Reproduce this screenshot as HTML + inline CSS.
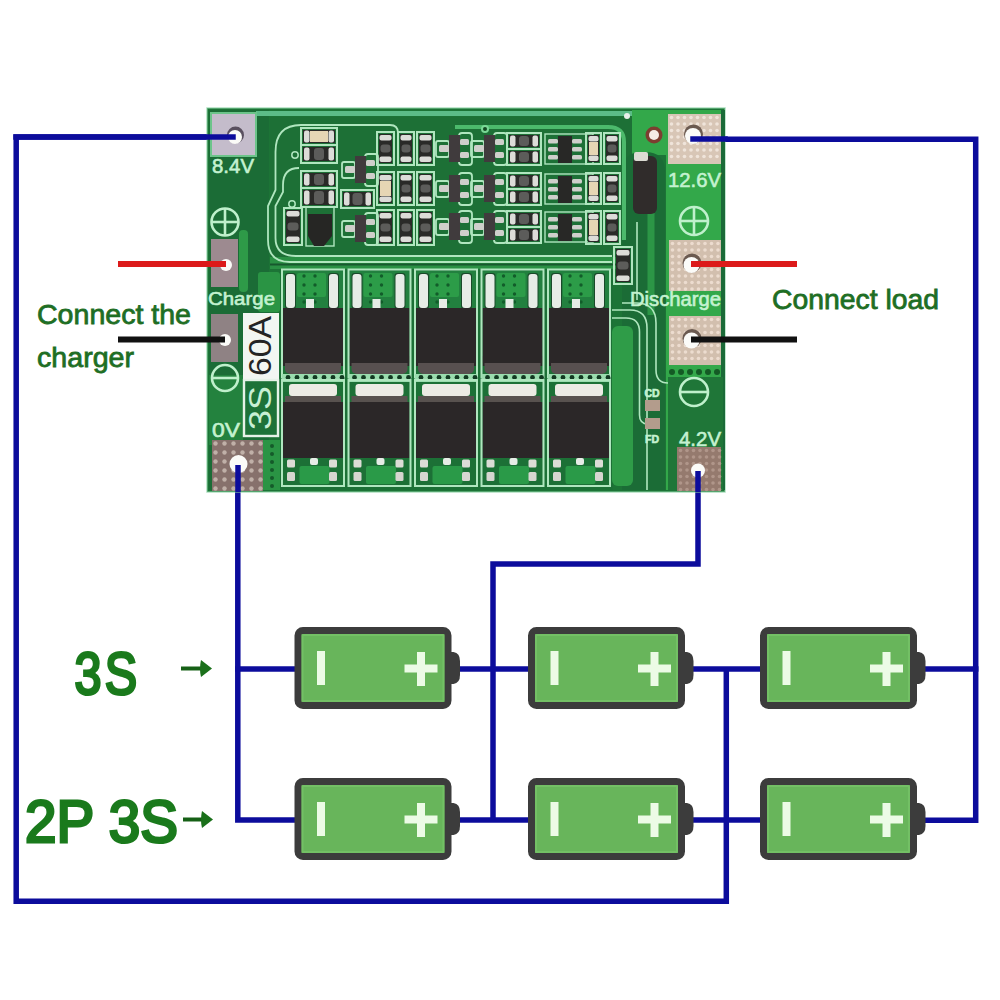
<!DOCTYPE html>
<html><head><meta charset="utf-8"><style>
html,body{margin:0;padding:0;background:#fff;width:1000px;height:1000px;overflow:hidden;}
svg{display:block;}
</style></head><body>
<svg width="1000" height="1000" viewBox="0 0 1000 1000">
<rect width="1000" height="1000" fill="#ffffff"/>
<polyline points="235,137 16.2,137 16.2,901.3 726.3,901.3 726.3,669" fill="none" stroke="#0c0c9c" stroke-width="5.5" stroke-linejoin="miter" stroke-linecap="butt"/>
<polyline points="693,139.3 975.7,139.3 975.7,820.3 920,820.3" fill="none" stroke="#0c0c9c" stroke-width="5.5" stroke-linejoin="miter" stroke-linecap="butt"/>
<line x1="920" y1="669" x2="975.7" y2="669" stroke="#0c0c9c" stroke-width="5.5" stroke-linecap="square"/>
<polyline points="237.8,463 237.8,820 297,820" fill="none" stroke="#0c0c9c" stroke-width="5.5" stroke-linejoin="miter" stroke-linecap="butt"/>
<line x1="237.8" y1="669" x2="297" y2="669" stroke="#0c0c9c" stroke-width="5.5" stroke-linecap="square"/>
<polyline points="698,469 698,564 493,564 493,820" fill="none" stroke="#0c0c9c" stroke-width="5.5" stroke-linejoin="miter" stroke-linecap="butt"/>
<line x1="455" y1="669" x2="530" y2="669" stroke="#0c0c9c" stroke-width="5.5" stroke-linecap="square"/>
<line x1="455" y1="820" x2="530" y2="820" stroke="#0c0c9c" stroke-width="5.5" stroke-linecap="square"/>
<line x1="688" y1="669" x2="762" y2="669" stroke="#0c0c9c" stroke-width="5.5" stroke-linecap="square"/>
<line x1="688" y1="820" x2="762" y2="820" stroke="#0c0c9c" stroke-width="5.5" stroke-linecap="square"/>
<rect x="207" y="108" width="518" height="384" rx="0" fill="#1c7436" />
<rect x="209" y="110" width="60" height="380" rx="0" fill="#1b6c36" />
<rect x="209" y="375" width="34" height="70" rx="0" fill="#23823e" />
<rect x="270" y="117" width="362" height="150" rx="0" fill="#1d7036" />
<rect x="256" y="111" width="376" height="5" rx="0" fill="#5cbc88" />
<rect x="666" y="110" width="57" height="380" rx="0" fill="#33a84a" />
<rect x="632" y="110" width="36" height="45" rx="0" fill="#33a84a" />
<path d="M 622 490 L 622 172 Q 622 152 642 152 L 645 152 Q 665 152 665 172 L 665 490 Z" fill="#1b6c36"/>
<rect x="647.5" y="205" width="7" height="110" rx="0" fill="#2c9646" />
<path d="M 637 222 L 637 300" fill="none" stroke="#b0e6bf" stroke-width="1.6" />
<rect x="279" y="267" width="334" height="223" rx="0" fill="#1c7036" />
<rect x="270" y="257" width="350" height="12" rx="0" fill="#2a9044" />
<rect x="270" y="263.5" width="350" height="2" rx="0" fill="#17582e" />
<rect x="612" y="326" width="21" height="160" rx="6" fill="#2f9c48" />
<path d="M 612 310 L 630 310 Q 647 310 647 328 L 647 490" fill="none" stroke="#b0e6bf" stroke-width="1.6" />
<path d="M 612 318 L 626 318 Q 639.5 318 639.5 332 L 639.5 415 Q 639.5 424 648 424" fill="none" stroke="#b0e6bf" stroke-width="1.6" />
<path d="M 622 303 L 636 303 Q 656 303 656 323 L 656 370 Q 656 383 668 383 L 680 383" fill="none" stroke="#b0e6bf" stroke-width="1.6" />
<rect x="207" y="108" width="518" height="384" rx="0" fill="none" stroke="#8ad2a4" stroke-width="1.5" opacity="0.7"/>
<rect x="721" y="110" width="4" height="380" rx="0" fill="#1b6a38" />
<path d="M 612 262 L 290 262 Q 268 262 268 240 L 268 206 L 275.5 190 L 275.5 152 Q 275.5 125 301 125 L 390 125 Q 398 125 398 133" fill="none" stroke="#b0e6bf" stroke-width="1.8" />
<path d="M 612 256 L 296 256 Q 275.5 256 275.5 238 L 275.5 206 L 283 192 L 283 185 Q 283 168 299 168" fill="none" stroke="#b0e6bf" stroke-width="1.8" />
<circle cx="295" cy="155" r="3.2" fill="none" stroke="#b0e6bf" stroke-width="1.5"/>
<circle cx="292" cy="204" r="3.2" fill="none" stroke="#b0e6bf" stroke-width="1.5"/>
<rect x="283" y="271" width="60" height="38" rx="0" fill="#22803f" />
<rect x="297" y="273" width="29" height="24" rx="2" fill="#2c9c48" />
<circle cx="304" cy="276" r="1.7" fill="#125c2a"/>
<circle cx="315" cy="276" r="1.7" fill="#125c2a"/>
<circle cx="304" cy="285" r="1.7" fill="#125c2a"/>
<circle cx="315" cy="285" r="1.7" fill="#125c2a"/>
<circle cx="304" cy="294" r="1.7" fill="#125c2a"/>
<circle cx="315" cy="294" r="1.7" fill="#125c2a"/>
<circle cx="304" cy="302" r="1.7" fill="#125c2a"/>
<circle cx="315" cy="302" r="1.7" fill="#125c2a"/>
<rect x="285" y="273" width="11" height="36" rx="3" fill="#1a4a2a" />
<rect x="286" y="274" width="9" height="34" rx="3" fill="#e6ece6" />
<rect x="328" y="273" width="11" height="36" rx="3" fill="#1a4a2a" />
<rect x="329" y="274" width="9" height="34" rx="3" fill="#e6ece6" />
<rect x="306" y="299" width="8" height="9" rx="0" fill="#e6ece6" />
<rect x="283" y="308" width="60" height="58" rx="0" fill="#2b2728" />
<rect x="285" y="358" width="56" height="16" rx="5" fill="#585050" />
<rect x="283" y="356" width="60" height="7" rx="0" fill="#2b2728" />
<rect x="282" y="269.5" width="62" height="108" rx="0" fill="none" stroke="#b0e6bf" stroke-width="2"/>
<rect x="282" y="374" width="62" height="8" rx="0" fill="#9adcae" />
<circle cx="288" cy="377.5" r="2.4" fill="#123a22"/>
<circle cx="297" cy="377.5" r="2.4" fill="#123a22"/>
<circle cx="306" cy="377.5" r="2.4" fill="#123a22"/>
<circle cx="315" cy="377.5" r="2.4" fill="#123a22"/>
<circle cx="324" cy="377.5" r="2.4" fill="#123a22"/>
<circle cx="333" cy="377.5" r="2.4" fill="#123a22"/>
<circle cx="342" cy="377.5" r="2.4" fill="#123a22"/>
<rect x="289" y="384" width="48" height="12" rx="3" fill="#ecebe4" />
<rect x="285" y="396" width="56" height="6" rx="0" fill="#58524f" />
<rect x="283" y="402" width="60" height="56" rx="0" fill="#2b2728" />
<rect x="299.5" y="466" width="30" height="18" rx="2" fill="#2a9a48" />
<rect x="287" y="459.5" width="8" height="8" rx="1.5" fill="#dcdcd6" />
<rect x="287" y="472" width="8" height="9" rx="1.5" fill="#d6d6d0" />
<rect x="329" y="459.5" width="8" height="8" rx="1.5" fill="#dcdcd6" />
<rect x="329" y="472" width="8" height="9" rx="1.5" fill="#d6d6d0" />
<rect x="310" y="458" width="8" height="7" rx="2" fill="#e6ece6" />
<rect x="282" y="380" width="62" height="106" rx="0" fill="none" stroke="#b0e6bf" stroke-width="2"/>
<rect x="349.5" y="271" width="60" height="38" rx="0" fill="#22803f" />
<rect x="363.5" y="273" width="29" height="24" rx="2" fill="#2c9c48" />
<circle cx="370.5" cy="276" r="1.7" fill="#125c2a"/>
<circle cx="381.5" cy="276" r="1.7" fill="#125c2a"/>
<circle cx="370.5" cy="285" r="1.7" fill="#125c2a"/>
<circle cx="381.5" cy="285" r="1.7" fill="#125c2a"/>
<circle cx="370.5" cy="294" r="1.7" fill="#125c2a"/>
<circle cx="381.5" cy="294" r="1.7" fill="#125c2a"/>
<circle cx="370.5" cy="302" r="1.7" fill="#125c2a"/>
<circle cx="381.5" cy="302" r="1.7" fill="#125c2a"/>
<rect x="351.5" y="273" width="11" height="36" rx="3" fill="#1a4a2a" />
<rect x="352.5" y="274" width="9" height="34" rx="3" fill="#e6ece6" />
<rect x="394.5" y="273" width="11" height="36" rx="3" fill="#1a4a2a" />
<rect x="395.5" y="274" width="9" height="34" rx="3" fill="#e6ece6" />
<rect x="372.5" y="299" width="8" height="9" rx="0" fill="#e6ece6" />
<rect x="349.5" y="308" width="60" height="58" rx="0" fill="#2b2728" />
<rect x="351.5" y="358" width="56" height="16" rx="5" fill="#585050" />
<rect x="349.5" y="356" width="60" height="7" rx="0" fill="#2b2728" />
<rect x="348.5" y="269.5" width="62" height="108" rx="0" fill="none" stroke="#b0e6bf" stroke-width="2"/>
<rect x="348.5" y="374" width="62" height="8" rx="0" fill="#9adcae" />
<circle cx="354.5" cy="377.5" r="2.4" fill="#123a22"/>
<circle cx="363.5" cy="377.5" r="2.4" fill="#123a22"/>
<circle cx="372.5" cy="377.5" r="2.4" fill="#123a22"/>
<circle cx="381.5" cy="377.5" r="2.4" fill="#123a22"/>
<circle cx="390.5" cy="377.5" r="2.4" fill="#123a22"/>
<circle cx="399.5" cy="377.5" r="2.4" fill="#123a22"/>
<circle cx="408.5" cy="377.5" r="2.4" fill="#123a22"/>
<rect x="355.5" y="384" width="48" height="12" rx="3" fill="#ecebe4" />
<rect x="351.5" y="396" width="56" height="6" rx="0" fill="#58524f" />
<rect x="349.5" y="402" width="60" height="56" rx="0" fill="#2b2728" />
<rect x="366.0" y="466" width="30" height="18" rx="2" fill="#2a9a48" />
<rect x="353.5" y="459.5" width="8" height="8" rx="1.5" fill="#dcdcd6" />
<rect x="353.5" y="472" width="8" height="9" rx="1.5" fill="#d6d6d0" />
<rect x="395.5" y="459.5" width="8" height="8" rx="1.5" fill="#dcdcd6" />
<rect x="395.5" y="472" width="8" height="9" rx="1.5" fill="#d6d6d0" />
<rect x="376.5" y="458" width="8" height="7" rx="2" fill="#e6ece6" />
<rect x="348.5" y="380" width="62" height="106" rx="0" fill="none" stroke="#b0e6bf" stroke-width="2"/>
<rect x="416" y="271" width="60" height="38" rx="0" fill="#22803f" />
<rect x="430" y="273" width="29" height="24" rx="2" fill="#2c9c48" />
<circle cx="437" cy="276" r="1.7" fill="#125c2a"/>
<circle cx="448" cy="276" r="1.7" fill="#125c2a"/>
<circle cx="437" cy="285" r="1.7" fill="#125c2a"/>
<circle cx="448" cy="285" r="1.7" fill="#125c2a"/>
<circle cx="437" cy="294" r="1.7" fill="#125c2a"/>
<circle cx="448" cy="294" r="1.7" fill="#125c2a"/>
<circle cx="437" cy="302" r="1.7" fill="#125c2a"/>
<circle cx="448" cy="302" r="1.7" fill="#125c2a"/>
<rect x="418" y="273" width="11" height="36" rx="3" fill="#1a4a2a" />
<rect x="419" y="274" width="9" height="34" rx="3" fill="#e6ece6" />
<rect x="461" y="273" width="11" height="36" rx="3" fill="#1a4a2a" />
<rect x="462" y="274" width="9" height="34" rx="3" fill="#e6ece6" />
<rect x="439" y="299" width="8" height="9" rx="0" fill="#e6ece6" />
<rect x="416" y="308" width="60" height="58" rx="0" fill="#2b2728" />
<rect x="418" y="358" width="56" height="16" rx="5" fill="#585050" />
<rect x="416" y="356" width="60" height="7" rx="0" fill="#2b2728" />
<rect x="415" y="269.5" width="62" height="108" rx="0" fill="none" stroke="#b0e6bf" stroke-width="2"/>
<rect x="415" y="374" width="62" height="8" rx="0" fill="#9adcae" />
<circle cx="421" cy="377.5" r="2.4" fill="#123a22"/>
<circle cx="430" cy="377.5" r="2.4" fill="#123a22"/>
<circle cx="439" cy="377.5" r="2.4" fill="#123a22"/>
<circle cx="448" cy="377.5" r="2.4" fill="#123a22"/>
<circle cx="457" cy="377.5" r="2.4" fill="#123a22"/>
<circle cx="466" cy="377.5" r="2.4" fill="#123a22"/>
<circle cx="475" cy="377.5" r="2.4" fill="#123a22"/>
<rect x="422" y="384" width="48" height="12" rx="3" fill="#ecebe4" />
<rect x="418" y="396" width="56" height="6" rx="0" fill="#58524f" />
<rect x="416" y="402" width="60" height="56" rx="0" fill="#2b2728" />
<rect x="432.5" y="466" width="30" height="18" rx="2" fill="#2a9a48" />
<rect x="420" y="459.5" width="8" height="8" rx="1.5" fill="#dcdcd6" />
<rect x="420" y="472" width="8" height="9" rx="1.5" fill="#d6d6d0" />
<rect x="462" y="459.5" width="8" height="8" rx="1.5" fill="#dcdcd6" />
<rect x="462" y="472" width="8" height="9" rx="1.5" fill="#d6d6d0" />
<rect x="443" y="458" width="8" height="7" rx="2" fill="#e6ece6" />
<rect x="415" y="380" width="62" height="106" rx="0" fill="none" stroke="#b0e6bf" stroke-width="2"/>
<rect x="482.5" y="271" width="60" height="38" rx="0" fill="#22803f" />
<rect x="496.5" y="273" width="29" height="24" rx="2" fill="#2c9c48" />
<circle cx="503.5" cy="276" r="1.7" fill="#125c2a"/>
<circle cx="514.5" cy="276" r="1.7" fill="#125c2a"/>
<circle cx="503.5" cy="285" r="1.7" fill="#125c2a"/>
<circle cx="514.5" cy="285" r="1.7" fill="#125c2a"/>
<circle cx="503.5" cy="294" r="1.7" fill="#125c2a"/>
<circle cx="514.5" cy="294" r="1.7" fill="#125c2a"/>
<circle cx="503.5" cy="302" r="1.7" fill="#125c2a"/>
<circle cx="514.5" cy="302" r="1.7" fill="#125c2a"/>
<rect x="484.5" y="273" width="11" height="36" rx="3" fill="#1a4a2a" />
<rect x="485.5" y="274" width="9" height="34" rx="3" fill="#e6ece6" />
<rect x="527.5" y="273" width="11" height="36" rx="3" fill="#1a4a2a" />
<rect x="528.5" y="274" width="9" height="34" rx="3" fill="#e6ece6" />
<rect x="505.5" y="299" width="8" height="9" rx="0" fill="#e6ece6" />
<rect x="482.5" y="308" width="60" height="58" rx="0" fill="#2b2728" />
<rect x="484.5" y="358" width="56" height="16" rx="5" fill="#585050" />
<rect x="482.5" y="356" width="60" height="7" rx="0" fill="#2b2728" />
<rect x="481.5" y="269.5" width="62" height="108" rx="0" fill="none" stroke="#b0e6bf" stroke-width="2"/>
<rect x="481.5" y="374" width="62" height="8" rx="0" fill="#9adcae" />
<circle cx="487.5" cy="377.5" r="2.4" fill="#123a22"/>
<circle cx="496.5" cy="377.5" r="2.4" fill="#123a22"/>
<circle cx="505.5" cy="377.5" r="2.4" fill="#123a22"/>
<circle cx="514.5" cy="377.5" r="2.4" fill="#123a22"/>
<circle cx="523.5" cy="377.5" r="2.4" fill="#123a22"/>
<circle cx="532.5" cy="377.5" r="2.4" fill="#123a22"/>
<circle cx="541.5" cy="377.5" r="2.4" fill="#123a22"/>
<rect x="488.5" y="384" width="48" height="12" rx="3" fill="#ecebe4" />
<rect x="484.5" y="396" width="56" height="6" rx="0" fill="#58524f" />
<rect x="482.5" y="402" width="60" height="56" rx="0" fill="#2b2728" />
<rect x="499.0" y="466" width="30" height="18" rx="2" fill="#2a9a48" />
<rect x="486.5" y="459.5" width="8" height="8" rx="1.5" fill="#dcdcd6" />
<rect x="486.5" y="472" width="8" height="9" rx="1.5" fill="#d6d6d0" />
<rect x="528.5" y="459.5" width="8" height="8" rx="1.5" fill="#dcdcd6" />
<rect x="528.5" y="472" width="8" height="9" rx="1.5" fill="#d6d6d0" />
<rect x="509.5" y="458" width="8" height="7" rx="2" fill="#e6ece6" />
<rect x="481.5" y="380" width="62" height="106" rx="0" fill="none" stroke="#b0e6bf" stroke-width="2"/>
<rect x="549" y="271" width="60" height="38" rx="0" fill="#22803f" />
<rect x="563" y="273" width="29" height="24" rx="2" fill="#2c9c48" />
<circle cx="570" cy="276" r="1.7" fill="#125c2a"/>
<circle cx="581" cy="276" r="1.7" fill="#125c2a"/>
<circle cx="570" cy="285" r="1.7" fill="#125c2a"/>
<circle cx="581" cy="285" r="1.7" fill="#125c2a"/>
<circle cx="570" cy="294" r="1.7" fill="#125c2a"/>
<circle cx="581" cy="294" r="1.7" fill="#125c2a"/>
<circle cx="570" cy="302" r="1.7" fill="#125c2a"/>
<circle cx="581" cy="302" r="1.7" fill="#125c2a"/>
<rect x="551" y="273" width="11" height="36" rx="3" fill="#1a4a2a" />
<rect x="552" y="274" width="9" height="34" rx="3" fill="#e6ece6" />
<rect x="594" y="273" width="11" height="36" rx="3" fill="#1a4a2a" />
<rect x="595" y="274" width="9" height="34" rx="3" fill="#e6ece6" />
<rect x="572" y="299" width="8" height="9" rx="0" fill="#e6ece6" />
<rect x="549" y="308" width="60" height="58" rx="0" fill="#2b2728" />
<rect x="551" y="358" width="56" height="16" rx="5" fill="#585050" />
<rect x="549" y="356" width="60" height="7" rx="0" fill="#2b2728" />
<rect x="548" y="269.5" width="62" height="108" rx="0" fill="none" stroke="#b0e6bf" stroke-width="2"/>
<rect x="548" y="374" width="62" height="8" rx="0" fill="#9adcae" />
<circle cx="554" cy="377.5" r="2.4" fill="#123a22"/>
<circle cx="563" cy="377.5" r="2.4" fill="#123a22"/>
<circle cx="572" cy="377.5" r="2.4" fill="#123a22"/>
<circle cx="581" cy="377.5" r="2.4" fill="#123a22"/>
<circle cx="590" cy="377.5" r="2.4" fill="#123a22"/>
<circle cx="599" cy="377.5" r="2.4" fill="#123a22"/>
<circle cx="608" cy="377.5" r="2.4" fill="#123a22"/>
<rect x="555" y="384" width="48" height="12" rx="3" fill="#ecebe4" />
<rect x="551" y="396" width="56" height="6" rx="0" fill="#58524f" />
<rect x="549" y="402" width="60" height="56" rx="0" fill="#2b2728" />
<rect x="565.5" y="466" width="30" height="18" rx="2" fill="#2a9a48" />
<rect x="553" y="459.5" width="8" height="8" rx="1.5" fill="#dcdcd6" />
<rect x="553" y="472" width="8" height="9" rx="1.5" fill="#d6d6d0" />
<rect x="595" y="459.5" width="8" height="8" rx="1.5" fill="#dcdcd6" />
<rect x="595" y="472" width="8" height="9" rx="1.5" fill="#d6d6d0" />
<rect x="576" y="458" width="8" height="7" rx="2" fill="#e6ece6" />
<rect x="548" y="380" width="62" height="106" rx="0" fill="none" stroke="#b0e6bf" stroke-width="2"/>
<path d="M 455 127 L 608 127 Q 624 127 624 142 L 624 240" fill="none" stroke="#4cba6c" stroke-width="4" />
<circle cx="485" cy="129" r="4" fill="#7ad896"/><circle cx="485" cy="129" r="2" fill="#124a22"/>
<rect x="301" y="128" width="36" height="17" rx="0" fill="none" stroke="#b0e6bf" stroke-width="2"/>
<rect x="303" y="130" width="32" height="13" rx="0" fill="#2a2a28" />
<rect x="314.0" y="131" width="10" height="11" rx="3" fill="#5c5c5a" />
<rect x="304" y="130.5" width="5.5" height="12" rx="2" fill="#dcdcd8" />
<rect x="328.5" y="130.5" width="5.5" height="12" rx="2" fill="#dcdcd8" />
<rect x="310" y="131" width="18" height="11" rx="0" fill="#e6d6b4" />
<rect x="301" y="145" width="36" height="18" rx="0" fill="none" stroke="#b0e6bf" stroke-width="2"/>
<rect x="303" y="147" width="32" height="14" rx="0" fill="#2a2a28" />
<rect x="314.0" y="148" width="10" height="12" rx="3" fill="#5c5c5a" />
<rect x="304" y="147.5" width="5.5" height="13" rx="2" fill="#dcdcd8" />
<rect x="328.5" y="147.5" width="5.5" height="13" rx="2" fill="#dcdcd8" />
<rect x="301" y="171" width="36" height="17" rx="0" fill="none" stroke="#b0e6bf" stroke-width="2"/>
<rect x="303" y="173" width="32" height="13" rx="0" fill="#2a2a28" />
<rect x="314.0" y="174" width="10" height="11" rx="3" fill="#5c5c5a" />
<rect x="304" y="173.5" width="5.5" height="12" rx="2" fill="#dcdcd8" />
<rect x="328.5" y="173.5" width="5.5" height="12" rx="2" fill="#dcdcd8" />
<rect x="301" y="188" width="36" height="19" rx="0" fill="none" stroke="#b0e6bf" stroke-width="2"/>
<rect x="303" y="190" width="32" height="15" rx="0" fill="#2a2a28" />
<rect x="314.0" y="191" width="10" height="13" rx="3" fill="#5c5c5a" />
<rect x="304" y="190.5" width="5.5" height="14" rx="2" fill="#dcdcd8" />
<rect x="328.5" y="190.5" width="5.5" height="14" rx="2" fill="#dcdcd8" />
<rect x="284" y="208" width="18" height="37" rx="0" fill="none" stroke="#b0e6bf" stroke-width="2"/>
<rect x="286" y="210" width="14" height="33" rx="0" fill="#2a2a28" />
<rect x="287.5" y="222.5" width="11" height="8" rx="3" fill="#5c5c5a" />
<rect x="286.5" y="211" width="13" height="5.5" rx="2" fill="#dcdcd8" />
<rect x="286.5" y="236.5" width="13" height="5.5" rx="2" fill="#dcdcd8" />
<rect x="306" y="207" width="28" height="39" rx="0" fill="none" stroke="#b0e6bf" stroke-width="1.4"/>
<path d="M 308 214 L 332 214 L 332 236 L 324 246 L 314 246 L 308 236 Z" fill="#262624"/>
<rect x="342" y="162" width="13" height="16" rx="2" fill="none" stroke="#b0e6bf" stroke-width="1.8"/>
<rect x="365" y="154" width="13" height="32" rx="3" fill="none" stroke="#b0e6bf" stroke-width="1.8"/>
<rect x="355" y="156" width="11" height="27" rx="0" fill="#403b3d" />
<rect x="345" y="166" width="10" height="7" rx="1.5" fill="#cfcfcb" />
<rect x="366" y="160" width="9" height="6" rx="1.5" fill="#cfcfcb" />
<rect x="366" y="173" width="9" height="6" rx="1.5" fill="#cfcfcb" />
<rect x="341" y="190" width="33" height="18" rx="0" fill="none" stroke="#b0e6bf" stroke-width="2"/>
<rect x="343" y="192" width="29" height="14" rx="0" fill="#2a2a28" />
<rect x="352.5" y="193" width="10" height="12" rx="3" fill="#5c5c5a" />
<rect x="344" y="192.5" width="5.5" height="13" rx="2" fill="#dcdcd8" />
<rect x="365.5" y="192.5" width="5.5" height="13" rx="2" fill="#dcdcd8" />
<rect x="342" y="221" width="13" height="16" rx="2" fill="none" stroke="#b0e6bf" stroke-width="1.8"/>
<rect x="365" y="213" width="13" height="32" rx="3" fill="none" stroke="#b0e6bf" stroke-width="1.8"/>
<rect x="355" y="215" width="11" height="27" rx="0" fill="#403b3d" />
<rect x="345" y="225" width="10" height="7" rx="1.5" fill="#cfcfcb" />
<rect x="366" y="219" width="9" height="6" rx="1.5" fill="#cfcfcb" />
<rect x="366" y="232" width="9" height="6" rx="1.5" fill="#cfcfcb" />
<rect x="377" y="132" width="17" height="33" rx="0" fill="none" stroke="#b0e6bf" stroke-width="2"/>
<rect x="379" y="134" width="13" height="29" rx="0" fill="#2a2a28" />
<rect x="380.5" y="144.5" width="10" height="8" rx="3" fill="#5c5c5a" />
<rect x="379.5" y="135" width="12" height="5.5" rx="2" fill="#dcdcd8" />
<rect x="379.5" y="156.5" width="12" height="5.5" rx="2" fill="#dcdcd8" />
<rect x="398" y="132" width="16" height="33" rx="0" fill="none" stroke="#b0e6bf" stroke-width="2"/>
<rect x="400" y="134" width="12" height="29" rx="0" fill="#2a2a28" />
<rect x="401.5" y="144.5" width="9" height="8" rx="3" fill="#5c5c5a" />
<rect x="400.5" y="135" width="11" height="5.5" rx="2" fill="#dcdcd8" />
<rect x="400.5" y="156.5" width="11" height="5.5" rx="2" fill="#dcdcd8" />
<rect x="417" y="132" width="17" height="33" rx="0" fill="none" stroke="#b0e6bf" stroke-width="2"/>
<rect x="419" y="134" width="13" height="29" rx="0" fill="#2a2a28" />
<rect x="420.5" y="144.5" width="10" height="8" rx="3" fill="#5c5c5a" />
<rect x="419.5" y="135" width="12" height="5.5" rx="2" fill="#dcdcd8" />
<rect x="419.5" y="156.5" width="12" height="5.5" rx="2" fill="#dcdcd8" />
<rect x="436" y="141" width="13" height="16" rx="2" fill="none" stroke="#b0e6bf" stroke-width="1.8"/>
<rect x="459" y="133" width="13" height="32" rx="3" fill="none" stroke="#b0e6bf" stroke-width="1.8"/>
<rect x="449" y="135" width="11" height="27" rx="0" fill="#403b3d" />
<rect x="439" y="145" width="10" height="7" rx="1.5" fill="#cfcfcb" />
<rect x="460" y="139" width="9" height="6" rx="1.5" fill="#cfcfcb" />
<rect x="460" y="152" width="9" height="6" rx="1.5" fill="#cfcfcb" />
<rect x="471" y="141" width="13" height="16" rx="2" fill="none" stroke="#b0e6bf" stroke-width="1.8"/>
<rect x="494" y="133" width="13" height="32" rx="3" fill="none" stroke="#b0e6bf" stroke-width="1.8"/>
<rect x="484" y="135" width="11" height="27" rx="0" fill="#403b3d" />
<rect x="474" y="145" width="10" height="7" rx="1.5" fill="#cfcfcb" />
<rect x="495" y="139" width="9" height="6" rx="1.5" fill="#cfcfcb" />
<rect x="495" y="152" width="9" height="6" rx="1.5" fill="#cfcfcb" />
<rect x="507" y="133" width="34" height="16" rx="0" fill="none" stroke="#b0e6bf" stroke-width="2"/>
<rect x="509" y="135" width="30" height="12" rx="0" fill="#2a2a28" />
<rect x="519.0" y="136" width="10" height="10" rx="3" fill="#5c5c5a" />
<rect x="510" y="135.5" width="5.5" height="11" rx="2" fill="#dcdcd8" />
<rect x="532.5" y="135.5" width="5.5" height="11" rx="2" fill="#dcdcd8" />
<rect x="507" y="149" width="34" height="16" rx="0" fill="none" stroke="#b0e6bf" stroke-width="2"/>
<rect x="509" y="151" width="30" height="12" rx="0" fill="#2a2a28" />
<rect x="519.0" y="152" width="10" height="10" rx="3" fill="#5c5c5a" />
<rect x="510" y="151.5" width="5.5" height="11" rx="2" fill="#dcdcd8" />
<rect x="532.5" y="151.5" width="5.5" height="11" rx="2" fill="#dcdcd8" />
<rect x="545" y="134" width="48" height="30" rx="0" fill="none" stroke="#b0e6bf" stroke-width="1.4"/>
<rect x="558" y="136" width="14" height="27" rx="0" fill="#282826" />
<rect x="548" y="139" width="10" height="4.5" rx="1.5" fill="#cfcfcb" />
<rect x="572" y="139" width="10" height="4.5" rx="1.5" fill="#cfcfcb" />
<rect x="548" y="147" width="10" height="4.5" rx="1.5" fill="#cfcfcb" />
<rect x="572" y="147" width="10" height="4.5" rx="1.5" fill="#cfcfcb" />
<rect x="548" y="155" width="10" height="4.5" rx="1.5" fill="#cfcfcb" />
<rect x="572" y="155" width="10" height="4.5" rx="1.5" fill="#cfcfcb" />
<rect x="586" y="133" width="15" height="31" rx="0" fill="none" stroke="#b0e6bf" stroke-width="2"/>
<rect x="588" y="135" width="11" height="27" rx="0" fill="#2a2a28" />
<rect x="589.5" y="144.5" width="8" height="8" rx="3" fill="#5c5c5a" />
<rect x="588.5" y="136" width="10" height="5.5" rx="2" fill="#dcdcd8" />
<rect x="588.5" y="155.5" width="10" height="5.5" rx="2" fill="#dcdcd8" />
<rect x="589" y="142" width="9" height="13" rx="0" fill="#e6d6b4" />
<rect x="604" y="133" width="16" height="31" rx="0" fill="none" stroke="#b0e6bf" stroke-width="2"/>
<rect x="606" y="135" width="12" height="27" rx="0" fill="#2a2a28" />
<rect x="607.5" y="144.5" width="9" height="8" rx="3" fill="#5c5c5a" />
<rect x="606.5" y="136" width="11" height="5.5" rx="2" fill="#dcdcd8" />
<rect x="606.5" y="155.5" width="11" height="5.5" rx="2" fill="#dcdcd8" />
<rect x="377" y="172" width="17" height="33" rx="0" fill="none" stroke="#b0e6bf" stroke-width="2"/>
<rect x="379" y="174" width="13" height="29" rx="0" fill="#2a2a28" />
<rect x="380.5" y="184.5" width="10" height="8" rx="3" fill="#5c5c5a" />
<rect x="379.5" y="175" width="12" height="5.5" rx="2" fill="#dcdcd8" />
<rect x="379.5" y="196.5" width="12" height="5.5" rx="2" fill="#dcdcd8" />
<rect x="380" y="181" width="11" height="15" rx="0" fill="#e6d6b4" />
<rect x="398" y="172" width="16" height="33" rx="0" fill="none" stroke="#b0e6bf" stroke-width="2"/>
<rect x="400" y="174" width="12" height="29" rx="0" fill="#2a2a28" />
<rect x="401.5" y="184.5" width="9" height="8" rx="3" fill="#5c5c5a" />
<rect x="400.5" y="175" width="11" height="5.5" rx="2" fill="#dcdcd8" />
<rect x="400.5" y="196.5" width="11" height="5.5" rx="2" fill="#dcdcd8" />
<rect x="417" y="172" width="17" height="33" rx="0" fill="none" stroke="#b0e6bf" stroke-width="2"/>
<rect x="419" y="174" width="13" height="29" rx="0" fill="#2a2a28" />
<rect x="420.5" y="184.5" width="10" height="8" rx="3" fill="#5c5c5a" />
<rect x="419.5" y="175" width="12" height="5.5" rx="2" fill="#dcdcd8" />
<rect x="419.5" y="196.5" width="12" height="5.5" rx="2" fill="#dcdcd8" />
<rect x="436" y="181" width="13" height="16" rx="2" fill="none" stroke="#b0e6bf" stroke-width="1.8"/>
<rect x="459" y="173" width="13" height="32" rx="3" fill="none" stroke="#b0e6bf" stroke-width="1.8"/>
<rect x="449" y="175" width="11" height="27" rx="0" fill="#403b3d" />
<rect x="439" y="185" width="10" height="7" rx="1.5" fill="#cfcfcb" />
<rect x="460" y="179" width="9" height="6" rx="1.5" fill="#cfcfcb" />
<rect x="460" y="192" width="9" height="6" rx="1.5" fill="#cfcfcb" />
<rect x="471" y="181" width="13" height="16" rx="2" fill="none" stroke="#b0e6bf" stroke-width="1.8"/>
<rect x="494" y="173" width="13" height="32" rx="3" fill="none" stroke="#b0e6bf" stroke-width="1.8"/>
<rect x="484" y="175" width="11" height="27" rx="0" fill="#403b3d" />
<rect x="474" y="185" width="10" height="7" rx="1.5" fill="#cfcfcb" />
<rect x="495" y="179" width="9" height="6" rx="1.5" fill="#cfcfcb" />
<rect x="495" y="192" width="9" height="6" rx="1.5" fill="#cfcfcb" />
<rect x="507" y="173" width="34" height="16" rx="0" fill="none" stroke="#b0e6bf" stroke-width="2"/>
<rect x="509" y="175" width="30" height="12" rx="0" fill="#2a2a28" />
<rect x="519.0" y="176" width="10" height="10" rx="3" fill="#5c5c5a" />
<rect x="510" y="175.5" width="5.5" height="11" rx="2" fill="#dcdcd8" />
<rect x="532.5" y="175.5" width="5.5" height="11" rx="2" fill="#dcdcd8" />
<rect x="507" y="189" width="34" height="16" rx="0" fill="none" stroke="#b0e6bf" stroke-width="2"/>
<rect x="509" y="191" width="30" height="12" rx="0" fill="#2a2a28" />
<rect x="519.0" y="192" width="10" height="10" rx="3" fill="#5c5c5a" />
<rect x="510" y="191.5" width="5.5" height="11" rx="2" fill="#dcdcd8" />
<rect x="532.5" y="191.5" width="5.5" height="11" rx="2" fill="#dcdcd8" />
<rect x="545" y="174" width="48" height="30" rx="0" fill="none" stroke="#b0e6bf" stroke-width="1.4"/>
<rect x="558" y="176" width="14" height="27" rx="0" fill="#282826" />
<rect x="548" y="179" width="10" height="4.5" rx="1.5" fill="#cfcfcb" />
<rect x="572" y="179" width="10" height="4.5" rx="1.5" fill="#cfcfcb" />
<rect x="548" y="187" width="10" height="4.5" rx="1.5" fill="#cfcfcb" />
<rect x="572" y="187" width="10" height="4.5" rx="1.5" fill="#cfcfcb" />
<rect x="548" y="195" width="10" height="4.5" rx="1.5" fill="#cfcfcb" />
<rect x="572" y="195" width="10" height="4.5" rx="1.5" fill="#cfcfcb" />
<rect x="586" y="173" width="15" height="31" rx="0" fill="none" stroke="#b0e6bf" stroke-width="2"/>
<rect x="588" y="175" width="11" height="27" rx="0" fill="#2a2a28" />
<rect x="589.5" y="184.5" width="8" height="8" rx="3" fill="#5c5c5a" />
<rect x="588.5" y="176" width="10" height="5.5" rx="2" fill="#dcdcd8" />
<rect x="588.5" y="195.5" width="10" height="5.5" rx="2" fill="#dcdcd8" />
<rect x="589" y="182" width="9" height="13" rx="0" fill="#e6d6b4" />
<rect x="604" y="173" width="16" height="31" rx="0" fill="none" stroke="#b0e6bf" stroke-width="2"/>
<rect x="606" y="175" width="12" height="27" rx="0" fill="#2a2a28" />
<rect x="607.5" y="184.5" width="9" height="8" rx="3" fill="#5c5c5a" />
<rect x="606.5" y="176" width="11" height="5.5" rx="2" fill="#dcdcd8" />
<rect x="606.5" y="195.5" width="11" height="5.5" rx="2" fill="#dcdcd8" />
<rect x="377" y="210" width="17" height="35" rx="0" fill="none" stroke="#b0e6bf" stroke-width="2"/>
<rect x="379" y="212" width="13" height="31" rx="0" fill="#2a2a28" />
<rect x="380.5" y="223.5" width="10" height="8" rx="3" fill="#5c5c5a" />
<rect x="379.5" y="213" width="12" height="5.5" rx="2" fill="#dcdcd8" />
<rect x="379.5" y="236.5" width="12" height="5.5" rx="2" fill="#dcdcd8" />
<rect x="398" y="210" width="16" height="35" rx="0" fill="none" stroke="#b0e6bf" stroke-width="2"/>
<rect x="400" y="212" width="12" height="31" rx="0" fill="#2a2a28" />
<rect x="401.5" y="223.5" width="9" height="8" rx="3" fill="#5c5c5a" />
<rect x="400.5" y="213" width="11" height="5.5" rx="2" fill="#dcdcd8" />
<rect x="400.5" y="236.5" width="11" height="5.5" rx="2" fill="#dcdcd8" />
<rect x="417" y="210" width="17" height="35" rx="0" fill="none" stroke="#b0e6bf" stroke-width="2"/>
<rect x="419" y="212" width="13" height="31" rx="0" fill="#2a2a28" />
<rect x="420.5" y="223.5" width="10" height="8" rx="3" fill="#5c5c5a" />
<rect x="419.5" y="213" width="12" height="5.5" rx="2" fill="#dcdcd8" />
<rect x="419.5" y="236.5" width="12" height="5.5" rx="2" fill="#dcdcd8" />
<rect x="436" y="219" width="13" height="16" rx="2" fill="none" stroke="#b0e6bf" stroke-width="1.8"/>
<rect x="459" y="211" width="13" height="32" rx="3" fill="none" stroke="#b0e6bf" stroke-width="1.8"/>
<rect x="449" y="213" width="11" height="27" rx="0" fill="#403b3d" />
<rect x="439" y="223" width="10" height="7" rx="1.5" fill="#cfcfcb" />
<rect x="460" y="217" width="9" height="6" rx="1.5" fill="#cfcfcb" />
<rect x="460" y="230" width="9" height="6" rx="1.5" fill="#cfcfcb" />
<rect x="471" y="219" width="13" height="16" rx="2" fill="none" stroke="#b0e6bf" stroke-width="1.8"/>
<rect x="494" y="211" width="13" height="32" rx="3" fill="none" stroke="#b0e6bf" stroke-width="1.8"/>
<rect x="484" y="213" width="11" height="27" rx="0" fill="#403b3d" />
<rect x="474" y="223" width="10" height="7" rx="1.5" fill="#cfcfcb" />
<rect x="495" y="217" width="9" height="6" rx="1.5" fill="#cfcfcb" />
<rect x="495" y="230" width="9" height="6" rx="1.5" fill="#cfcfcb" />
<rect x="507" y="211" width="34" height="16" rx="0" fill="none" stroke="#b0e6bf" stroke-width="2"/>
<rect x="509" y="213" width="30" height="12" rx="0" fill="#2a2a28" />
<rect x="519.0" y="214" width="10" height="10" rx="3" fill="#5c5c5a" />
<rect x="510" y="213.5" width="5.5" height="11" rx="2" fill="#dcdcd8" />
<rect x="532.5" y="213.5" width="5.5" height="11" rx="2" fill="#dcdcd8" />
<rect x="507" y="227" width="34" height="16" rx="0" fill="none" stroke="#b0e6bf" stroke-width="2"/>
<rect x="509" y="229" width="30" height="12" rx="0" fill="#2a2a28" />
<rect x="519.0" y="230" width="10" height="10" rx="3" fill="#5c5c5a" />
<rect x="510" y="229.5" width="5.5" height="11" rx="2" fill="#dcdcd8" />
<rect x="532.5" y="229.5" width="5.5" height="11" rx="2" fill="#dcdcd8" />
<rect x="545" y="212" width="48" height="30" rx="0" fill="none" stroke="#b0e6bf" stroke-width="1.4"/>
<rect x="558" y="214" width="14" height="27" rx="0" fill="#282826" />
<rect x="548" y="217" width="10" height="4.5" rx="1.5" fill="#cfcfcb" />
<rect x="572" y="217" width="10" height="4.5" rx="1.5" fill="#cfcfcb" />
<rect x="548" y="225" width="10" height="4.5" rx="1.5" fill="#cfcfcb" />
<rect x="572" y="225" width="10" height="4.5" rx="1.5" fill="#cfcfcb" />
<rect x="548" y="233" width="10" height="4.5" rx="1.5" fill="#cfcfcb" />
<rect x="572" y="233" width="10" height="4.5" rx="1.5" fill="#cfcfcb" />
<rect x="586" y="211" width="15" height="33" rx="0" fill="none" stroke="#b0e6bf" stroke-width="2"/>
<rect x="588" y="213" width="11" height="29" rx="0" fill="#2a2a28" />
<rect x="589.5" y="223.5" width="8" height="8" rx="3" fill="#5c5c5a" />
<rect x="588.5" y="214" width="10" height="5.5" rx="2" fill="#dcdcd8" />
<rect x="588.5" y="235.5" width="10" height="5.5" rx="2" fill="#dcdcd8" />
<rect x="589" y="220" width="9" height="15" rx="0" fill="#e6d6b4" />
<rect x="604" y="211" width="16" height="33" rx="0" fill="none" stroke="#b0e6bf" stroke-width="2"/>
<rect x="606" y="213" width="12" height="29" rx="0" fill="#2a2a28" />
<rect x="607.5" y="223.5" width="9" height="8" rx="3" fill="#5c5c5a" />
<rect x="606.5" y="214" width="11" height="5.5" rx="2" fill="#dcdcd8" />
<rect x="606.5" y="235.5" width="11" height="5.5" rx="2" fill="#dcdcd8" />
<rect x="614" y="247" width="18" height="37" rx="0" fill="none" stroke="#b0e6bf" stroke-width="2"/>
<rect x="616" y="249" width="14" height="33" rx="0" fill="#2a2a28" />
<rect x="617.5" y="261.5" width="11" height="8" rx="3" fill="#5c5c5a" />
<rect x="616.5" y="250" width="13" height="5.5" rx="2" fill="#dcdcd8" />
<rect x="616.5" y="275.5" width="13" height="5.5" rx="2" fill="#dcdcd8" />
<circle cx="654" cy="135" r="8.5" fill="#7c3e30"/><circle cx="654" cy="135" r="5" fill="#f6ece6"/>
<circle cx="627" cy="116" r="3" fill="#e8f0ea"/>
<rect x="633" y="156" width="24" height="58" rx="6" fill="#302c2b" />
<rect x="634" y="152" width="14" height="9" rx="2" fill="#dcdcd4" />
<rect x="668" y="114" width="53" height="50" rx="0" fill="#d8c6b6" />
<circle cx="671.5" cy="117.5" r="1.8" fill="#efe4da"/>
<circle cx="678.0" cy="117.5" r="1.8" fill="#efe4da"/>
<circle cx="684.5" cy="117.5" r="1.8" fill="#efe4da"/>
<circle cx="691.0" cy="117.5" r="1.8" fill="#efe4da"/>
<circle cx="697.5" cy="117.5" r="1.8" fill="#efe4da"/>
<circle cx="704.0" cy="117.5" r="1.8" fill="#efe4da"/>
<circle cx="710.5" cy="117.5" r="1.8" fill="#efe4da"/>
<circle cx="717.0" cy="117.5" r="1.8" fill="#efe4da"/>
<circle cx="671.5" cy="124.0" r="1.8" fill="#efe4da"/>
<circle cx="678.0" cy="124.0" r="1.8" fill="#efe4da"/>
<circle cx="684.5" cy="124.0" r="1.8" fill="#efe4da"/>
<circle cx="691.0" cy="124.0" r="1.8" fill="#efe4da"/>
<circle cx="697.5" cy="124.0" r="1.8" fill="#efe4da"/>
<circle cx="704.0" cy="124.0" r="1.8" fill="#efe4da"/>
<circle cx="710.5" cy="124.0" r="1.8" fill="#efe4da"/>
<circle cx="717.0" cy="124.0" r="1.8" fill="#efe4da"/>
<circle cx="671.5" cy="130.5" r="1.8" fill="#efe4da"/>
<circle cx="678.0" cy="130.5" r="1.8" fill="#efe4da"/>
<circle cx="684.5" cy="130.5" r="1.8" fill="#efe4da"/>
<circle cx="691.0" cy="130.5" r="1.8" fill="#efe4da"/>
<circle cx="697.5" cy="130.5" r="1.8" fill="#efe4da"/>
<circle cx="704.0" cy="130.5" r="1.8" fill="#efe4da"/>
<circle cx="710.5" cy="130.5" r="1.8" fill="#efe4da"/>
<circle cx="717.0" cy="130.5" r="1.8" fill="#efe4da"/>
<circle cx="671.5" cy="137.0" r="1.8" fill="#efe4da"/>
<circle cx="678.0" cy="137.0" r="1.8" fill="#efe4da"/>
<circle cx="684.5" cy="137.0" r="1.8" fill="#efe4da"/>
<circle cx="691.0" cy="137.0" r="1.8" fill="#efe4da"/>
<circle cx="697.5" cy="137.0" r="1.8" fill="#efe4da"/>
<circle cx="704.0" cy="137.0" r="1.8" fill="#efe4da"/>
<circle cx="710.5" cy="137.0" r="1.8" fill="#efe4da"/>
<circle cx="717.0" cy="137.0" r="1.8" fill="#efe4da"/>
<circle cx="671.5" cy="143.5" r="1.8" fill="#efe4da"/>
<circle cx="678.0" cy="143.5" r="1.8" fill="#efe4da"/>
<circle cx="684.5" cy="143.5" r="1.8" fill="#efe4da"/>
<circle cx="691.0" cy="143.5" r="1.8" fill="#efe4da"/>
<circle cx="697.5" cy="143.5" r="1.8" fill="#efe4da"/>
<circle cx="704.0" cy="143.5" r="1.8" fill="#efe4da"/>
<circle cx="710.5" cy="143.5" r="1.8" fill="#efe4da"/>
<circle cx="717.0" cy="143.5" r="1.8" fill="#efe4da"/>
<circle cx="671.5" cy="150.0" r="1.8" fill="#efe4da"/>
<circle cx="678.0" cy="150.0" r="1.8" fill="#efe4da"/>
<circle cx="684.5" cy="150.0" r="1.8" fill="#efe4da"/>
<circle cx="691.0" cy="150.0" r="1.8" fill="#efe4da"/>
<circle cx="697.5" cy="150.0" r="1.8" fill="#efe4da"/>
<circle cx="704.0" cy="150.0" r="1.8" fill="#efe4da"/>
<circle cx="710.5" cy="150.0" r="1.8" fill="#efe4da"/>
<circle cx="717.0" cy="150.0" r="1.8" fill="#efe4da"/>
<circle cx="671.5" cy="156.5" r="1.8" fill="#efe4da"/>
<circle cx="678.0" cy="156.5" r="1.8" fill="#efe4da"/>
<circle cx="684.5" cy="156.5" r="1.8" fill="#efe4da"/>
<circle cx="691.0" cy="156.5" r="1.8" fill="#efe4da"/>
<circle cx="697.5" cy="156.5" r="1.8" fill="#efe4da"/>
<circle cx="704.0" cy="156.5" r="1.8" fill="#efe4da"/>
<circle cx="710.5" cy="156.5" r="1.8" fill="#efe4da"/>
<circle cx="717.0" cy="156.5" r="1.8" fill="#efe4da"/>
<circle cx="693.5" cy="134" r="9.5" fill="#6b5a50"/>
<circle cx="693" cy="136" r="8" fill="#fbfbf8"/>
<text x="694.5" y="187" font-family="Liberation Sans" font-size="21" fill="#c4f2d0" stroke="#c4f2d0" stroke-width="0.6" text-anchor="middle" textLength="53" lengthAdjust="spacingAndGlyphs">12.6V</text>
<circle cx="694" cy="221" r="14" fill="none" stroke="#bff0cc" stroke-width="2.6"/>
<line x1="680" y1="221" x2="708" y2="221" stroke="#bff0cc" stroke-width="2.6"/>
<line x1="694" y1="207" x2="694" y2="235" stroke="#bff0cc" stroke-width="2.6"/>
<rect x="669" y="240" width="52" height="51" rx="0" fill="#d2bfae" />
<circle cx="672.5" cy="243.5" r="1.8" fill="#ecdccf"/>
<circle cx="679.0" cy="243.5" r="1.8" fill="#ecdccf"/>
<circle cx="685.5" cy="243.5" r="1.8" fill="#ecdccf"/>
<circle cx="692.0" cy="243.5" r="1.8" fill="#ecdccf"/>
<circle cx="698.5" cy="243.5" r="1.8" fill="#ecdccf"/>
<circle cx="705.0" cy="243.5" r="1.8" fill="#ecdccf"/>
<circle cx="711.5" cy="243.5" r="1.8" fill="#ecdccf"/>
<circle cx="718.0" cy="243.5" r="1.8" fill="#ecdccf"/>
<circle cx="672.5" cy="250.0" r="1.8" fill="#ecdccf"/>
<circle cx="679.0" cy="250.0" r="1.8" fill="#ecdccf"/>
<circle cx="685.5" cy="250.0" r="1.8" fill="#ecdccf"/>
<circle cx="692.0" cy="250.0" r="1.8" fill="#ecdccf"/>
<circle cx="698.5" cy="250.0" r="1.8" fill="#ecdccf"/>
<circle cx="705.0" cy="250.0" r="1.8" fill="#ecdccf"/>
<circle cx="711.5" cy="250.0" r="1.8" fill="#ecdccf"/>
<circle cx="718.0" cy="250.0" r="1.8" fill="#ecdccf"/>
<circle cx="672.5" cy="256.5" r="1.8" fill="#ecdccf"/>
<circle cx="679.0" cy="256.5" r="1.8" fill="#ecdccf"/>
<circle cx="685.5" cy="256.5" r="1.8" fill="#ecdccf"/>
<circle cx="692.0" cy="256.5" r="1.8" fill="#ecdccf"/>
<circle cx="698.5" cy="256.5" r="1.8" fill="#ecdccf"/>
<circle cx="705.0" cy="256.5" r="1.8" fill="#ecdccf"/>
<circle cx="711.5" cy="256.5" r="1.8" fill="#ecdccf"/>
<circle cx="718.0" cy="256.5" r="1.8" fill="#ecdccf"/>
<circle cx="672.5" cy="263.0" r="1.8" fill="#ecdccf"/>
<circle cx="679.0" cy="263.0" r="1.8" fill="#ecdccf"/>
<circle cx="685.5" cy="263.0" r="1.8" fill="#ecdccf"/>
<circle cx="692.0" cy="263.0" r="1.8" fill="#ecdccf"/>
<circle cx="698.5" cy="263.0" r="1.8" fill="#ecdccf"/>
<circle cx="705.0" cy="263.0" r="1.8" fill="#ecdccf"/>
<circle cx="711.5" cy="263.0" r="1.8" fill="#ecdccf"/>
<circle cx="718.0" cy="263.0" r="1.8" fill="#ecdccf"/>
<circle cx="672.5" cy="269.5" r="1.8" fill="#ecdccf"/>
<circle cx="679.0" cy="269.5" r="1.8" fill="#ecdccf"/>
<circle cx="685.5" cy="269.5" r="1.8" fill="#ecdccf"/>
<circle cx="692.0" cy="269.5" r="1.8" fill="#ecdccf"/>
<circle cx="698.5" cy="269.5" r="1.8" fill="#ecdccf"/>
<circle cx="705.0" cy="269.5" r="1.8" fill="#ecdccf"/>
<circle cx="711.5" cy="269.5" r="1.8" fill="#ecdccf"/>
<circle cx="718.0" cy="269.5" r="1.8" fill="#ecdccf"/>
<circle cx="672.5" cy="276.0" r="1.8" fill="#ecdccf"/>
<circle cx="679.0" cy="276.0" r="1.8" fill="#ecdccf"/>
<circle cx="685.5" cy="276.0" r="1.8" fill="#ecdccf"/>
<circle cx="692.0" cy="276.0" r="1.8" fill="#ecdccf"/>
<circle cx="698.5" cy="276.0" r="1.8" fill="#ecdccf"/>
<circle cx="705.0" cy="276.0" r="1.8" fill="#ecdccf"/>
<circle cx="711.5" cy="276.0" r="1.8" fill="#ecdccf"/>
<circle cx="718.0" cy="276.0" r="1.8" fill="#ecdccf"/>
<circle cx="672.5" cy="282.5" r="1.8" fill="#ecdccf"/>
<circle cx="679.0" cy="282.5" r="1.8" fill="#ecdccf"/>
<circle cx="685.5" cy="282.5" r="1.8" fill="#ecdccf"/>
<circle cx="692.0" cy="282.5" r="1.8" fill="#ecdccf"/>
<circle cx="698.5" cy="282.5" r="1.8" fill="#ecdccf"/>
<circle cx="705.0" cy="282.5" r="1.8" fill="#ecdccf"/>
<circle cx="711.5" cy="282.5" r="1.8" fill="#ecdccf"/>
<circle cx="718.0" cy="282.5" r="1.8" fill="#ecdccf"/>
<circle cx="672.5" cy="289.0" r="1.8" fill="#ecdccf"/>
<circle cx="679.0" cy="289.0" r="1.8" fill="#ecdccf"/>
<circle cx="685.5" cy="289.0" r="1.8" fill="#ecdccf"/>
<circle cx="692.0" cy="289.0" r="1.8" fill="#ecdccf"/>
<circle cx="698.5" cy="289.0" r="1.8" fill="#ecdccf"/>
<circle cx="705.0" cy="289.0" r="1.8" fill="#ecdccf"/>
<circle cx="711.5" cy="289.0" r="1.8" fill="#ecdccf"/>
<circle cx="718.0" cy="289.0" r="1.8" fill="#ecdccf"/>
<circle cx="692.0" cy="263" r="9.5" fill="#6b5a50"/>
<circle cx="691.5" cy="265" r="8" fill="#fbfbf8"/>
<text x="675.5" y="306" font-family="Liberation Sans" font-size="19.5" fill="#c4f2d0" stroke="#c4f2d0" stroke-width="0.6" text-anchor="middle" textLength="91" lengthAdjust="spacingAndGlyphs">Discharge</text>
<rect x="669" y="316" width="52" height="49" rx="0" fill="#d2bfae" />
<circle cx="672.5" cy="319.5" r="1.8" fill="#ecdccf"/>
<circle cx="679.0" cy="319.5" r="1.8" fill="#ecdccf"/>
<circle cx="685.5" cy="319.5" r="1.8" fill="#ecdccf"/>
<circle cx="692.0" cy="319.5" r="1.8" fill="#ecdccf"/>
<circle cx="698.5" cy="319.5" r="1.8" fill="#ecdccf"/>
<circle cx="705.0" cy="319.5" r="1.8" fill="#ecdccf"/>
<circle cx="711.5" cy="319.5" r="1.8" fill="#ecdccf"/>
<circle cx="718.0" cy="319.5" r="1.8" fill="#ecdccf"/>
<circle cx="672.5" cy="326.0" r="1.8" fill="#ecdccf"/>
<circle cx="679.0" cy="326.0" r="1.8" fill="#ecdccf"/>
<circle cx="685.5" cy="326.0" r="1.8" fill="#ecdccf"/>
<circle cx="692.0" cy="326.0" r="1.8" fill="#ecdccf"/>
<circle cx="698.5" cy="326.0" r="1.8" fill="#ecdccf"/>
<circle cx="705.0" cy="326.0" r="1.8" fill="#ecdccf"/>
<circle cx="711.5" cy="326.0" r="1.8" fill="#ecdccf"/>
<circle cx="718.0" cy="326.0" r="1.8" fill="#ecdccf"/>
<circle cx="672.5" cy="332.5" r="1.8" fill="#ecdccf"/>
<circle cx="679.0" cy="332.5" r="1.8" fill="#ecdccf"/>
<circle cx="685.5" cy="332.5" r="1.8" fill="#ecdccf"/>
<circle cx="692.0" cy="332.5" r="1.8" fill="#ecdccf"/>
<circle cx="698.5" cy="332.5" r="1.8" fill="#ecdccf"/>
<circle cx="705.0" cy="332.5" r="1.8" fill="#ecdccf"/>
<circle cx="711.5" cy="332.5" r="1.8" fill="#ecdccf"/>
<circle cx="718.0" cy="332.5" r="1.8" fill="#ecdccf"/>
<circle cx="672.5" cy="339.0" r="1.8" fill="#ecdccf"/>
<circle cx="679.0" cy="339.0" r="1.8" fill="#ecdccf"/>
<circle cx="685.5" cy="339.0" r="1.8" fill="#ecdccf"/>
<circle cx="692.0" cy="339.0" r="1.8" fill="#ecdccf"/>
<circle cx="698.5" cy="339.0" r="1.8" fill="#ecdccf"/>
<circle cx="705.0" cy="339.0" r="1.8" fill="#ecdccf"/>
<circle cx="711.5" cy="339.0" r="1.8" fill="#ecdccf"/>
<circle cx="718.0" cy="339.0" r="1.8" fill="#ecdccf"/>
<circle cx="672.5" cy="345.5" r="1.8" fill="#ecdccf"/>
<circle cx="679.0" cy="345.5" r="1.8" fill="#ecdccf"/>
<circle cx="685.5" cy="345.5" r="1.8" fill="#ecdccf"/>
<circle cx="692.0" cy="345.5" r="1.8" fill="#ecdccf"/>
<circle cx="698.5" cy="345.5" r="1.8" fill="#ecdccf"/>
<circle cx="705.0" cy="345.5" r="1.8" fill="#ecdccf"/>
<circle cx="711.5" cy="345.5" r="1.8" fill="#ecdccf"/>
<circle cx="718.0" cy="345.5" r="1.8" fill="#ecdccf"/>
<circle cx="672.5" cy="352.0" r="1.8" fill="#ecdccf"/>
<circle cx="679.0" cy="352.0" r="1.8" fill="#ecdccf"/>
<circle cx="685.5" cy="352.0" r="1.8" fill="#ecdccf"/>
<circle cx="692.0" cy="352.0" r="1.8" fill="#ecdccf"/>
<circle cx="698.5" cy="352.0" r="1.8" fill="#ecdccf"/>
<circle cx="705.0" cy="352.0" r="1.8" fill="#ecdccf"/>
<circle cx="711.5" cy="352.0" r="1.8" fill="#ecdccf"/>
<circle cx="718.0" cy="352.0" r="1.8" fill="#ecdccf"/>
<circle cx="672.5" cy="358.5" r="1.8" fill="#ecdccf"/>
<circle cx="679.0" cy="358.5" r="1.8" fill="#ecdccf"/>
<circle cx="685.5" cy="358.5" r="1.8" fill="#ecdccf"/>
<circle cx="692.0" cy="358.5" r="1.8" fill="#ecdccf"/>
<circle cx="698.5" cy="358.5" r="1.8" fill="#ecdccf"/>
<circle cx="705.0" cy="358.5" r="1.8" fill="#ecdccf"/>
<circle cx="711.5" cy="358.5" r="1.8" fill="#ecdccf"/>
<circle cx="718.0" cy="358.5" r="1.8" fill="#ecdccf"/>
<circle cx="692.0" cy="338.5" r="9.5" fill="#6b5a50"/>
<circle cx="691.5" cy="340.5" r="8" fill="#fbfbf8"/>
<circle cx="672" cy="372" r="3" fill="#145a25"/>
<circle cx="681" cy="372" r="3" fill="#145a25"/>
<circle cx="690" cy="372" r="3" fill="#145a25"/>
<circle cx="699" cy="372" r="3" fill="#145a25"/>
<circle cx="708" cy="372" r="3" fill="#145a25"/>
<circle cx="717" cy="372" r="3" fill="#145a25"/>
<rect x="668" y="377" width="55" height="113" rx="0" fill="#1f7638" />
<circle cx="694" cy="392" r="14" fill="none" stroke="#bff0cc" stroke-width="2.6"/>
<line x1="680" y1="392" x2="708" y2="392" stroke="#bff0cc" stroke-width="2.6"/>
<rect x="645" y="400" width="15" height="11" rx="0" fill="#b39c8c" />
<rect x="645" y="418" width="15" height="11" rx="0" fill="#b39c8c" />
<text x="652" y="397" font-family="Liberation Sans" font-size="10.5" fill="#c4f2d0" stroke="#c4f2d0" stroke-width="0.6" text-anchor="middle" font-weight="bold">CD</text>
<text x="652" y="443" font-family="Liberation Sans" font-size="10.5" fill="#c4f2d0" stroke="#c4f2d0" stroke-width="0.6" text-anchor="middle" font-weight="bold">FD</text>
<text x="700" y="445.5" font-family="Liberation Sans" font-size="21" fill="#c4f2d0" stroke="#c4f2d0" stroke-width="0.6" text-anchor="middle" textLength="42" lengthAdjust="spacingAndGlyphs">4.2V</text>
<rect x="677" y="447" width="44" height="44" rx="0" fill="#957a6e" />
<circle cx="680.5" cy="450.5" r="1.8" fill="#b0968a"/>
<circle cx="687.0" cy="450.5" r="1.8" fill="#b0968a"/>
<circle cx="693.5" cy="450.5" r="1.8" fill="#b0968a"/>
<circle cx="700.0" cy="450.5" r="1.8" fill="#b0968a"/>
<circle cx="706.5" cy="450.5" r="1.8" fill="#b0968a"/>
<circle cx="713.0" cy="450.5" r="1.8" fill="#b0968a"/>
<circle cx="719.5" cy="450.5" r="1.8" fill="#b0968a"/>
<circle cx="680.5" cy="457.0" r="1.8" fill="#b0968a"/>
<circle cx="687.0" cy="457.0" r="1.8" fill="#b0968a"/>
<circle cx="693.5" cy="457.0" r="1.8" fill="#b0968a"/>
<circle cx="700.0" cy="457.0" r="1.8" fill="#b0968a"/>
<circle cx="706.5" cy="457.0" r="1.8" fill="#b0968a"/>
<circle cx="713.0" cy="457.0" r="1.8" fill="#b0968a"/>
<circle cx="719.5" cy="457.0" r="1.8" fill="#b0968a"/>
<circle cx="680.5" cy="463.5" r="1.8" fill="#b0968a"/>
<circle cx="687.0" cy="463.5" r="1.8" fill="#b0968a"/>
<circle cx="693.5" cy="463.5" r="1.8" fill="#b0968a"/>
<circle cx="700.0" cy="463.5" r="1.8" fill="#b0968a"/>
<circle cx="706.5" cy="463.5" r="1.8" fill="#b0968a"/>
<circle cx="713.0" cy="463.5" r="1.8" fill="#b0968a"/>
<circle cx="719.5" cy="463.5" r="1.8" fill="#b0968a"/>
<circle cx="680.5" cy="470.0" r="1.8" fill="#b0968a"/>
<circle cx="687.0" cy="470.0" r="1.8" fill="#b0968a"/>
<circle cx="693.5" cy="470.0" r="1.8" fill="#b0968a"/>
<circle cx="700.0" cy="470.0" r="1.8" fill="#b0968a"/>
<circle cx="706.5" cy="470.0" r="1.8" fill="#b0968a"/>
<circle cx="713.0" cy="470.0" r="1.8" fill="#b0968a"/>
<circle cx="719.5" cy="470.0" r="1.8" fill="#b0968a"/>
<circle cx="680.5" cy="476.5" r="1.8" fill="#b0968a"/>
<circle cx="687.0" cy="476.5" r="1.8" fill="#b0968a"/>
<circle cx="693.5" cy="476.5" r="1.8" fill="#b0968a"/>
<circle cx="700.0" cy="476.5" r="1.8" fill="#b0968a"/>
<circle cx="706.5" cy="476.5" r="1.8" fill="#b0968a"/>
<circle cx="713.0" cy="476.5" r="1.8" fill="#b0968a"/>
<circle cx="719.5" cy="476.5" r="1.8" fill="#b0968a"/>
<circle cx="680.5" cy="483.0" r="1.8" fill="#b0968a"/>
<circle cx="687.0" cy="483.0" r="1.8" fill="#b0968a"/>
<circle cx="693.5" cy="483.0" r="1.8" fill="#b0968a"/>
<circle cx="700.0" cy="483.0" r="1.8" fill="#b0968a"/>
<circle cx="706.5" cy="483.0" r="1.8" fill="#b0968a"/>
<circle cx="713.0" cy="483.0" r="1.8" fill="#b0968a"/>
<circle cx="719.5" cy="483.0" r="1.8" fill="#b0968a"/>
<circle cx="680.5" cy="489.5" r="1.8" fill="#b0968a"/>
<circle cx="687.0" cy="489.5" r="1.8" fill="#b0968a"/>
<circle cx="693.5" cy="489.5" r="1.8" fill="#b0968a"/>
<circle cx="700.0" cy="489.5" r="1.8" fill="#b0968a"/>
<circle cx="706.5" cy="489.5" r="1.8" fill="#b0968a"/>
<circle cx="713.0" cy="489.5" r="1.8" fill="#b0968a"/>
<circle cx="719.5" cy="489.5" r="1.8" fill="#b0968a"/>
<circle cx="698" cy="470.5" r="7" fill="#fbfbf8"/>
<rect x="210" y="112" width="47" height="45" rx="0" fill="#6cc48a" />
<rect x="212" y="114" width="43" height="41" rx="0" fill="#c4bccb" />
<circle cx="235.5" cy="135" r="8.5" fill="#5a5060"/>
<circle cx="235" cy="137" r="7" fill="#fbfbf8"/>
<text x="233" y="173" font-family="Liberation Sans" font-size="21" fill="#c4f2d0" stroke="#c4f2d0" stroke-width="0.6" text-anchor="middle" textLength="42" lengthAdjust="spacingAndGlyphs">8.4V</text>
<circle cx="225" cy="222" r="13.5" fill="none" stroke="#bff0cc" stroke-width="2.6"/>
<line x1="211.5" y1="222" x2="238.5" y2="222" stroke="#bff0cc" stroke-width="2.6"/>
<line x1="225" y1="208.5" x2="225" y2="235.5" stroke="#bff0cc" stroke-width="2.6"/>
<rect x="239" y="230" width="9" height="62" rx="4" fill="#2e9a48" />
<rect x="211" y="239" width="27" height="48" rx="0" fill="#9d8a90" />
<circle cx="226" cy="265" r="6" fill="#fbfbf8"/>
<rect x="258" y="272" width="22" height="40" rx="3" fill="#2a9444" />
<text x="241.5" y="305" font-family="Liberation Sans" font-size="19" fill="#c4f2d0" stroke="#c4f2d0" stroke-width="0.6" text-anchor="middle" textLength="67" lengthAdjust="spacingAndGlyphs">Charge</text>
<rect x="211" y="314" width="27" height="48" rx="0" fill="#8f8284" />
<circle cx="225" cy="340" r="6" fill="#fbfbf8"/>
<circle cx="225" cy="378" r="13" fill="none" stroke="#bff0cc" stroke-width="2.6"/>
<line x1="212" y1="378" x2="238" y2="378" stroke="#bff0cc" stroke-width="2.6"/>
<text x="226" y="437" font-family="Liberation Sans" font-size="20" fill="#c4f2d0" stroke="#c4f2d0" stroke-width="0.6" text-anchor="middle" textLength="28" lengthAdjust="spacingAndGlyphs">0V</text>
<rect x="212" y="440" width="51" height="51" rx="0" fill="#87716c" />
<circle cx="215.5" cy="443.5" r="2.2" fill="#c0b0a8"/>
<circle cx="224.5" cy="443.5" r="2.2" fill="#c0b0a8"/>
<circle cx="233.5" cy="443.5" r="2.2" fill="#c0b0a8"/>
<circle cx="242.5" cy="443.5" r="2.2" fill="#c0b0a8"/>
<circle cx="251.5" cy="443.5" r="2.2" fill="#c0b0a8"/>
<circle cx="260.5" cy="443.5" r="2.2" fill="#c0b0a8"/>
<circle cx="215.5" cy="452.5" r="2.2" fill="#c0b0a8"/>
<circle cx="224.5" cy="452.5" r="2.2" fill="#c0b0a8"/>
<circle cx="233.5" cy="452.5" r="2.2" fill="#c0b0a8"/>
<circle cx="242.5" cy="452.5" r="2.2" fill="#c0b0a8"/>
<circle cx="251.5" cy="452.5" r="2.2" fill="#c0b0a8"/>
<circle cx="260.5" cy="452.5" r="2.2" fill="#c0b0a8"/>
<circle cx="215.5" cy="461.5" r="2.2" fill="#c0b0a8"/>
<circle cx="224.5" cy="461.5" r="2.2" fill="#c0b0a8"/>
<circle cx="233.5" cy="461.5" r="2.2" fill="#c0b0a8"/>
<circle cx="242.5" cy="461.5" r="2.2" fill="#c0b0a8"/>
<circle cx="251.5" cy="461.5" r="2.2" fill="#c0b0a8"/>
<circle cx="260.5" cy="461.5" r="2.2" fill="#c0b0a8"/>
<circle cx="215.5" cy="470.5" r="2.2" fill="#c0b0a8"/>
<circle cx="224.5" cy="470.5" r="2.2" fill="#c0b0a8"/>
<circle cx="233.5" cy="470.5" r="2.2" fill="#c0b0a8"/>
<circle cx="242.5" cy="470.5" r="2.2" fill="#c0b0a8"/>
<circle cx="251.5" cy="470.5" r="2.2" fill="#c0b0a8"/>
<circle cx="260.5" cy="470.5" r="2.2" fill="#c0b0a8"/>
<circle cx="215.5" cy="479.5" r="2.2" fill="#c0b0a8"/>
<circle cx="224.5" cy="479.5" r="2.2" fill="#c0b0a8"/>
<circle cx="233.5" cy="479.5" r="2.2" fill="#c0b0a8"/>
<circle cx="242.5" cy="479.5" r="2.2" fill="#c0b0a8"/>
<circle cx="251.5" cy="479.5" r="2.2" fill="#c0b0a8"/>
<circle cx="260.5" cy="479.5" r="2.2" fill="#c0b0a8"/>
<circle cx="215.5" cy="488.5" r="2.2" fill="#c0b0a8"/>
<circle cx="224.5" cy="488.5" r="2.2" fill="#c0b0a8"/>
<circle cx="233.5" cy="488.5" r="2.2" fill="#c0b0a8"/>
<circle cx="242.5" cy="488.5" r="2.2" fill="#c0b0a8"/>
<circle cx="251.5" cy="488.5" r="2.2" fill="#c0b0a8"/>
<circle cx="260.5" cy="488.5" r="2.2" fill="#c0b0a8"/>
<circle cx="238.5" cy="464" r="9" fill="#fbfbf8"/>
<rect x="263" y="440" width="17" height="50" rx="0" fill="#2a9444" />
<circle cx="272" cy="446" r="2" fill="#155a2a"/>
<circle cx="272" cy="454" r="2" fill="#155a2a"/>
<circle cx="272" cy="462" r="2" fill="#155a2a"/>
<circle cx="272" cy="470" r="2" fill="#155a2a"/>
<circle cx="272" cy="478" r="2" fill="#155a2a"/>
<circle cx="272" cy="486" r="2" fill="#155a2a"/>
<rect x="243" y="313" width="36" height="66" rx="0" fill="#f2f6f2" />
<text transform="translate(271,346) rotate(-90)" font-family="Liberation Sans" font-size="31" fill="#242424" text-anchor="middle" textLength="60" lengthAdjust="spacingAndGlyphs">60A</text>
<rect x="244" y="380" width="34" height="56" fill="#1d7238" stroke="#e6f2e8" stroke-width="2.4"/>
<text transform="translate(271,408) rotate(-90)" font-family="Liberation Sans" font-size="31" fill="#c8f0d4" text-anchor="middle" textLength="44" lengthAdjust="spacingAndGlyphs">3S</text>
<line x1="693" y1="139" x2="725" y2="139" stroke="#0c0c9c" stroke-width="5.5" stroke-linecap="square"/>
<line x1="16" y1="137" x2="233" y2="137" stroke="#0c0c9c" stroke-width="5.5" stroke-linecap="square"/>
<line x1="238" y1="465" x2="238" y2="492" stroke="#0c0c9c" stroke-width="5.5" stroke-linecap="butt"/>
<line x1="698" y1="471" x2="698" y2="492" stroke="#0c0c9c" stroke-width="5.5" stroke-linecap="butt"/>
<line x1="118" y1="264" x2="226" y2="264" stroke="#dc1a1a" stroke-width="6" stroke-linecap="butt"/>
<line x1="118" y1="339.5" x2="225" y2="339.5" stroke="#111111" stroke-width="6" stroke-linecap="butt"/>
<line x1="691" y1="264" x2="797" y2="264" stroke="#dc1a1a" stroke-width="6" stroke-linecap="butt"/>
<line x1="691" y1="339.5" x2="797" y2="339.5" stroke="#111111" stroke-width="6" stroke-linecap="butt"/>
<rect x="298.0" y="630.5" width="150" height="75" rx="5" fill="#68b55b" stroke="#3c3c3c" stroke-width="7"/>
<rect x="302.5" y="635" width="141" height="66" fill="none" stroke="#78c46a" stroke-width="2" opacity="0.7"/>
<path d="M 450.5 652 L 453.5 652 Q 460.0 653 460.0 661 L 460.0 675 Q 460.0 683 453.5 684 L 450.5 684 Z" fill="#3c3c3c"/>
<rect x="317.0" y="651" width="8" height="34" rx="0" fill="#ecfbe6" />
<rect x="404.5" y="664.5" width="33" height="8" rx="0" fill="#ecfbe6" />
<rect x="417.0" y="652" width="8" height="34" rx="0" fill="#ecfbe6" />
<rect x="298.0" y="781.5" width="150" height="75" rx="5" fill="#68b55b" stroke="#3c3c3c" stroke-width="7"/>
<rect x="302.5" y="786" width="141" height="66" fill="none" stroke="#78c46a" stroke-width="2" opacity="0.7"/>
<path d="M 450.5 803 L 453.5 803 Q 460.0 804 460.0 812 L 460.0 826 Q 460.0 834 453.5 835 L 450.5 835 Z" fill="#3c3c3c"/>
<rect x="317.0" y="802" width="8" height="34" rx="0" fill="#ecfbe6" />
<rect x="404.5" y="815.5" width="33" height="8" rx="0" fill="#ecfbe6" />
<rect x="417.0" y="803" width="8" height="34" rx="0" fill="#ecfbe6" />
<rect x="531.5" y="630.5" width="150" height="75" rx="5" fill="#68b55b" stroke="#3c3c3c" stroke-width="7"/>
<rect x="536" y="635" width="141" height="66" fill="none" stroke="#78c46a" stroke-width="2" opacity="0.7"/>
<path d="M 684 652 L 687 652 Q 693.5 653 693.5 661 L 693.5 675 Q 693.5 683 687 684 L 684 684 Z" fill="#3c3c3c"/>
<rect x="550.5" y="651" width="8" height="34" rx="0" fill="#ecfbe6" />
<rect x="638" y="664.5" width="33" height="8" rx="0" fill="#ecfbe6" />
<rect x="650.5" y="652" width="8" height="34" rx="0" fill="#ecfbe6" />
<rect x="531.5" y="781.5" width="150" height="75" rx="5" fill="#68b55b" stroke="#3c3c3c" stroke-width="7"/>
<rect x="536" y="786" width="141" height="66" fill="none" stroke="#78c46a" stroke-width="2" opacity="0.7"/>
<path d="M 684 803 L 687 803 Q 693.5 804 693.5 812 L 693.5 826 Q 693.5 834 687 835 L 684 835 Z" fill="#3c3c3c"/>
<rect x="550.5" y="802" width="8" height="34" rx="0" fill="#ecfbe6" />
<rect x="638" y="815.5" width="33" height="8" rx="0" fill="#ecfbe6" />
<rect x="650.5" y="803" width="8" height="34" rx="0" fill="#ecfbe6" />
<rect x="763.5" y="630.5" width="150" height="75" rx="5" fill="#68b55b" stroke="#3c3c3c" stroke-width="7"/>
<rect x="768" y="635" width="141" height="66" fill="none" stroke="#78c46a" stroke-width="2" opacity="0.7"/>
<path d="M 916 652 L 919 652 Q 925.5 653 925.5 661 L 925.5 675 Q 925.5 683 919 684 L 916 684 Z" fill="#3c3c3c"/>
<rect x="782.5" y="651" width="8" height="34" rx="0" fill="#ecfbe6" />
<rect x="870" y="664.5" width="33" height="8" rx="0" fill="#ecfbe6" />
<rect x="882.5" y="652" width="8" height="34" rx="0" fill="#ecfbe6" />
<rect x="763.5" y="781.5" width="150" height="75" rx="5" fill="#68b55b" stroke="#3c3c3c" stroke-width="7"/>
<rect x="768" y="786" width="141" height="66" fill="none" stroke="#78c46a" stroke-width="2" opacity="0.7"/>
<path d="M 916 803 L 919 803 Q 925.5 804 925.5 812 L 925.5 826 Q 925.5 834 919 835 L 916 835 Z" fill="#3c3c3c"/>
<rect x="782.5" y="802" width="8" height="34" rx="0" fill="#ecfbe6" />
<rect x="870" y="815.5" width="33" height="8" rx="0" fill="#ecfbe6" />
<rect x="882.5" y="803" width="8" height="34" rx="0" fill="#ecfbe6" />
<text x="37" y="324" font-family="Liberation Sans" font-size="28" fill="#1e6e24" stroke="#1e6e24" stroke-width="0.8" textLength="154" lengthAdjust="spacingAndGlyphs">Connect the</text>
<text x="37" y="366.5" font-family="Liberation Sans" font-size="28" fill="#1e6e24" stroke="#1e6e24" stroke-width="0.8" textLength="97" lengthAdjust="spacingAndGlyphs">charger</text>
<text x="772" y="308.5" font-family="Liberation Sans" font-size="28" fill="#1e6e24" stroke="#1e6e24" stroke-width="0.8" textLength="167" lengthAdjust="spacingAndGlyphs">Connect load</text>
<text x="74.5" y="693.5" font-family="Liberation Sans" font-size="59" fill="#1a7a1c" stroke="#1a7a1c" stroke-width="3" letter-spacing="4" textLength="66" lengthAdjust="spacingAndGlyphs">3S</text>
<text x="25" y="841.5" font-family="Liberation Sans" font-size="60" fill="#1a7a1c" stroke="#1a7a1c" stroke-width="3" textLength="153" lengthAdjust="spacingAndGlyphs">2P 3S</text>
<line x1="181" y1="668.5" x2="206" y2="668.5" stroke="#166016" stroke-width="4"/>
<path d="M 201 660.0 L 212 668.5 L 201 677.0 Q 199 668.5 201 660.0 Z" fill="#1a701a"/>
<line x1="183" y1="819.5" x2="207" y2="819.5" stroke="#166016" stroke-width="4"/>
<path d="M 202 811.0 L 213 819.5 L 202 828.0 Q 200 819.5 202 811.0 Z" fill="#1a701a"/>
</svg>
</body></html>
